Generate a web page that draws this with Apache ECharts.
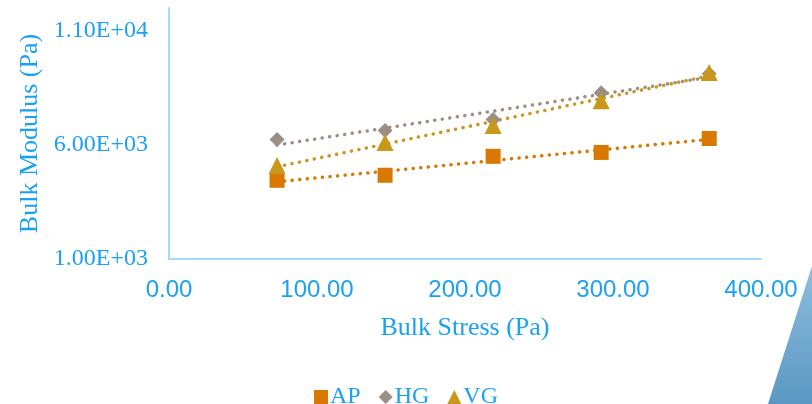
<!DOCTYPE html>
<html>
<head>
<meta charset="utf-8">
<script src="https://cdn.jsdelivr.net/npm/echarts@6/dist/echarts.min.js"></script>
<style>
  html, body { margin: 0; padding: 0; background: #fff; }
  #chart { width: 812px; height: 404px; }
</style>
</head>
<body>
<div id="chart"></div>
<script>
// Bulk stress (Pa) at each measurement
const stress = [73, 146, 219, 292, 365];
// Bulk modulus (Pa) per material
const apModulus = [4450, 4670, 5500, 5670, 6280];
const hgModulus = [6240, 6630, 7110, 8290, 9120];
const vgModulus = [5100, 6110, 6850, 7940, 9170];
const seriesNames = ['AP', 'HG', 'VG'];
const xTicks = [0, 100, 200, 300, 400];
const yTicks = [1000, 6000, 11000];

const textBlue = '#1BA1F2';
const axisBlue = '#A3DAFF';
const colors = { AP: '#D87800', HG: '#9A8E86', VG: '#C99719' };
const symbols = { AP: 'rect', HG: 'diamond', VG: 'triangle' };
const values = { AP: apModulus, HG: hgModulus, VG: vgModulus };

// Least-squares linear trend evaluated at the first and last stress values
function trend(xs, ys) {
  const n = xs.length;
  const mx = xs.reduce((a, b) => a + b, 0) / n;
  const my = ys.reduce((a, b) => a + b, 0) / n;
  let sxy = 0, sxx = 0;
  for (let i = 0; i < n; i++) {
    sxy += (xs[i] - mx) * (ys[i] - my);
    sxx += (xs[i] - mx) * (xs[i] - mx);
  }
  const k = sxy / sxx, b = my - k * mx;
  return [xs[0], xs[n - 1]].map(x => [x, b + k * x]);
}

function sci(v) {
  const e = Math.floor(Math.log10(v));
  const m = (v / Math.pow(10, e)).toFixed(2);
  return m + 'E+' + String(e).padStart(2, '0');
}

const series = [];
seriesNames.forEach(name => {
  series.push({
    name: name + ' trend',
    type: 'line',
    data: trend(stress, values[name]),
    symbol: 'none',
    silent: true,
    z: 1,
    lineStyle: { color: colors[name], width: 3.5, type: [0.1, 7.5], cap: 'round' }
  });
});
seriesNames.forEach(name => {
  series.push({
    name: name,
    type: 'scatter',
    data: stress.map((x, i) => [x, values[name][i]]),
    symbol: symbols[name],
    symbolSize: name === 'VG' ? 17 : 15,
    itemStyle: { color: colors[name], opacity: 1 },
    z: 3
  });
});

const chart = echarts.init(document.getElementById('chart'), null, { renderer: 'canvas' });
chart.setOption({
  animation: false,
  grid: { left: 169, right: 51, top: 8, bottom: 145, containLabel: false },
  xAxis: {
    type: 'value', min: 0, max: 400, interval: 100,
    name: 'Bulk Stress (Pa)', nameLocation: 'middle', nameGap: 56,
    nameTextStyle: { color: textBlue, fontFamily: 'Liberation Serif', fontSize: 26 },
    axisLine: { show: true, lineStyle: { color: axisBlue, width: 2 } },
    axisTick: { show: false },
    splitLine: { show: false },
    axisLabel: {
      color: textBlue, fontFamily: 'Liberation Sans', fontSize: 24, margin: 19,
      formatter: v => xTicks.includes(v) ? v.toFixed(2) : ''
    }
  },
  yAxis: {
    type: 'value', min: 1000, max: 12000, interval: 5000,
    name: 'Bulk Modulus (Pa)', nameLocation: 'middle', nameGap: 123,
    nameTextStyle: { color: textBlue, fontFamily: 'Liberation Serif', fontSize: 26 },
    axisLine: { show: true, lineStyle: { color: axisBlue, width: 2 } },
    axisTick: { show: false },
    splitLine: { show: false },
    axisLabel: {
      color: textBlue, fontFamily: 'Liberation Serif', fontSize: 24, margin: 21,
      formatter: v => yTicks.includes(v) ? sci(v) : ''
    }
  },
  legend: {
    data: seriesNames.map(n => ({ name: n, icon: symbols[n], itemStyle: { opacity: 1 } })),
    top: 380, left: 'center',
    itemWidth: 14, itemHeight: 14, itemGap: 18,
    textStyle: { color: textBlue, fontFamily: 'Liberation Serif', fontSize: 24, padding: [0, 0, 0, -3] }
  },
  graphic: [{
    type: 'polygon',
    silent: true,
    z: -1,
    shape: { points: [[812, 266], [768, 404], [812, 404]] },
    style: {
      fill: new echarts.graphic.LinearGradient(0, 0, 0, 1, [
        { offset: 0, color: '#8FBEDC' },
        { offset: 1, color: '#5A97C2' }
      ])
    }
  }],
  series: series
});
</script>
</body>
</html>
